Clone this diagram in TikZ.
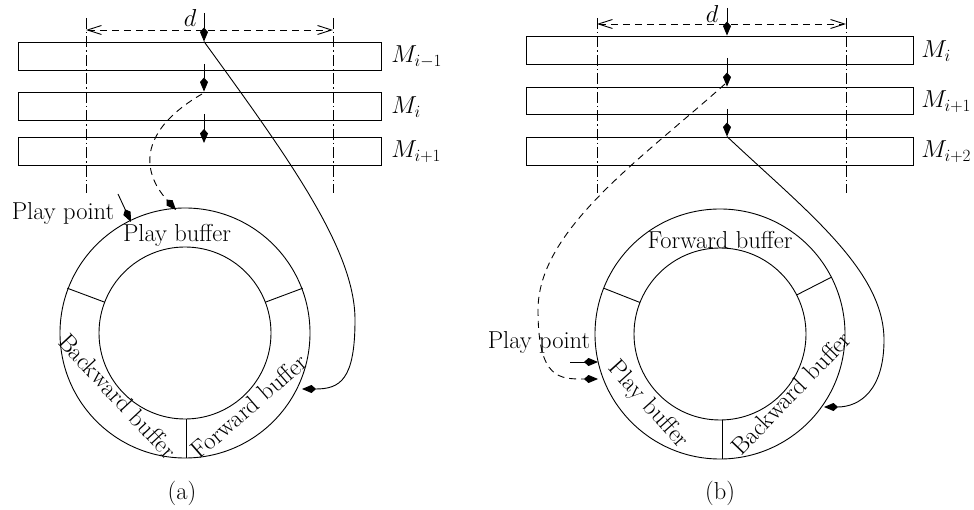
\RequirePackage{fix-cm}
\documentclass[tikz,border=0pt]{standalone}
\usetikzlibrary{arrows.meta}
\begin{document}
\begin{tikzpicture}[x=1pt,y=-1pt,
  line width=0.9pt,
  every node/.style={font=\fontsize{24.5}{29}\selectfont},
  bar/.style={draw, rectangle, minimum height=28pt, inner sep=0pt},
  ring/.style={draw, circle, inner sep=0pt},
  kite/.style={-{Kite[length=14pt,width=8pt,inset=4.5pt]}},
  dimline/.style={dash pattern=on 7pt off 5pt, {Straight Barb[length=14pt,width=9pt]}-{Straight Barb[length=14pt,width=9pt]}},
  guide/.style={dash pattern=on 11pt off 3pt on 1.5pt off 3pt},
  dashcurve/.style={dash pattern=on 7pt off 5pt},
  lbl/.style={anchor=west, inner sep=0pt},
  txt/.style={inner sep=0pt}
]
\useasboundingbox (0,0) rectangle (974,510);

% ===================== (a) =====================
\node[bar, minimum width=363pt] (r1a) at (199.5,56) {};
\node[bar, minimum width=363pt] (r2a) at (199.5,106) {};
\node[bar, minimum width=363pt] (r3a) at (199.5,151) {};
\node[lbl] (m1a) at (391,57) {$M_{i-1}$};
\node[lbl] (m2a) at (391,107) {$M_{i}$};
\node[lbl] (m3a) at (391,152) {$M_{i+1}$};

\coordinate (gla1) at (86,18);  \coordinate (gla2) at (86,193);
\coordinate (gra1) at (333,18); \coordinate (gra2) at (333,193);
\draw[guide] (gla1) -- (gla2);
\draw[guide] (gra1) -- (gra2);
\draw[dimline] (86,30) coordinate (dla) -- (333,30) coordinate (dra);
\node[txt] (da) at (190,18) {$d$};

\coordinate (a1s) at (204,13);
\coordinate (a2s) at (204,64);
\coordinate (a3s) at (204,114);
\coordinate (a3e) at (204,143);
\draw[kite] (a1s) -- (r1a.north -| a1s);
\draw[kite] (a2s) -- (r2a.north -| a2s);
\draw[kite] (a3s) -- (a3e);

\node[ring, minimum size=250pt] (oa) at (185,333) {};
\node[ring, minimum size=172pt] (ia) at (185,333) {};
\draw (67.3,288.2) coordinate (dv1o) -- (104.7,302.2) coordinate (dv1i);
\draw (302.7,288.2) coordinate (dv2o) -- (265.3,302.2) coordinate (dv2i);
\draw (186,419) coordinate (dv3i) -- (186,458) coordinate (dv3o);

\node[txt] (pba) at (177,235) {Play buffer};
\node[txt, rotate=-47] (bba) at (118,396) {Backward buffer};
\node[txt, rotate=41] (fba) at (249,406) {Forward buffer};

\node[txt] (ppa) at (63,213) {Play point};
\coordinate (ppas) at (118,194);
\coordinate (ppae) at (131,222);
\draw[kite] (ppas) -- (ppae);

\coordinate (dca) at (202,94);
\coordinate (dcae) at (176,210);
\draw[kite, dashcurve] (dca) .. controls (140,130) and (140,170) .. (dcae);

\coordinate (sca) at (r1a.north -| a1s);
\coordinate (scae) at (302,389);
\draw[kite] (sca) .. controls (290,160) and (355,250) .. (355,320)
  .. controls (355,380) and (340,389) .. (scae);

\node[txt] (capa) at (182,493) {(a)};

% ===================== (b) =====================
\node[bar, minimum width=387pt] (r1b) at (719.5,50) {};
\node[bar, minimum width=387pt, minimum height=27pt] (r2b) at (719.5,100.5) {};
\node[bar, minimum width=387pt] (r3b) at (719.5,151) {};
\node[lbl] (m1b) at (921,51) {$M_{i}$};
\node[lbl] (m2b) at (921,102) {$M_{i+1}$};
\node[lbl] (m3b) at (921,152) {$M_{i+2}$};

\coordinate (glb1) at (597,18);  \coordinate (glb2) at (597,193);
\coordinate (grb1) at (846,18);  \coordinate (grb2) at (846,193);
\draw[guide] (glb1) -- (glb2);
\draw[guide] (grb1) -- (grb2);
\draw[dimline] (597,24) coordinate (dlb) -- (846,24) coordinate (drb);
\node[txt] (db) at (712,14) {$d$};

\coordinate (b1s) at (727,8);
\coordinate (b2s) at (727,58);
\coordinate (b3s) at (727,109);
\draw[kite] (b1s) -- (r1b.north -| b1s);
\draw[kite] (b2s) -- (r2b.north -| b2s);
\draw[kite] (b3s) -- (r3b.north -| b3s);

\node[ring, minimum size=250pt] (ob) at (720,334) {};
\node[ring, minimum size=172pt] (ib) at (720,334) {};
\draw (603.7,288.2) coordinate (dw1o) -- (640,302.5) coordinate (dw1i);
\draw (831.4,277.2) coordinate (dw2o) -- (796.6,295) coordinate (dw2i);
\draw (722,420) coordinate (dw3i) -- (722,459) coordinate (dw3o);

\node[txt] (fbb) at (720,240) {Forward buffer};
\node[txt, rotate=-48] (pbb) at (648,405) {Play buffer};
\node[txt, rotate=46] (bbb) at (791,393) {Backward buffer};

\node[txt] (ppb) at (539,342) {Play point};
\coordinate (ppbs) at (570,362);
\coordinate (ppbe) at (598,362);
\draw[kite] (ppbs) -- (ppbe);

\coordinate (dcb) at (725,84);
\coordinate (dcbe) at (598,379);
\draw[kite, dashcurve] (dcb) .. controls (640,160) and (538,230) .. (538,310)
  .. controls (538,380) and (560,379) .. (dcbe);

\coordinate (scb) at (r3b.north -| b3s);
\coordinate (scbe) at (824,407);
\draw[kite] (scb) .. controls (805,210) and (884,270) .. (884,340)
  .. controls (884,390) and (860,407) .. (scbe);

\node[txt] (capb) at (720,493) {(b)};
\end{tikzpicture}
\end{document}
